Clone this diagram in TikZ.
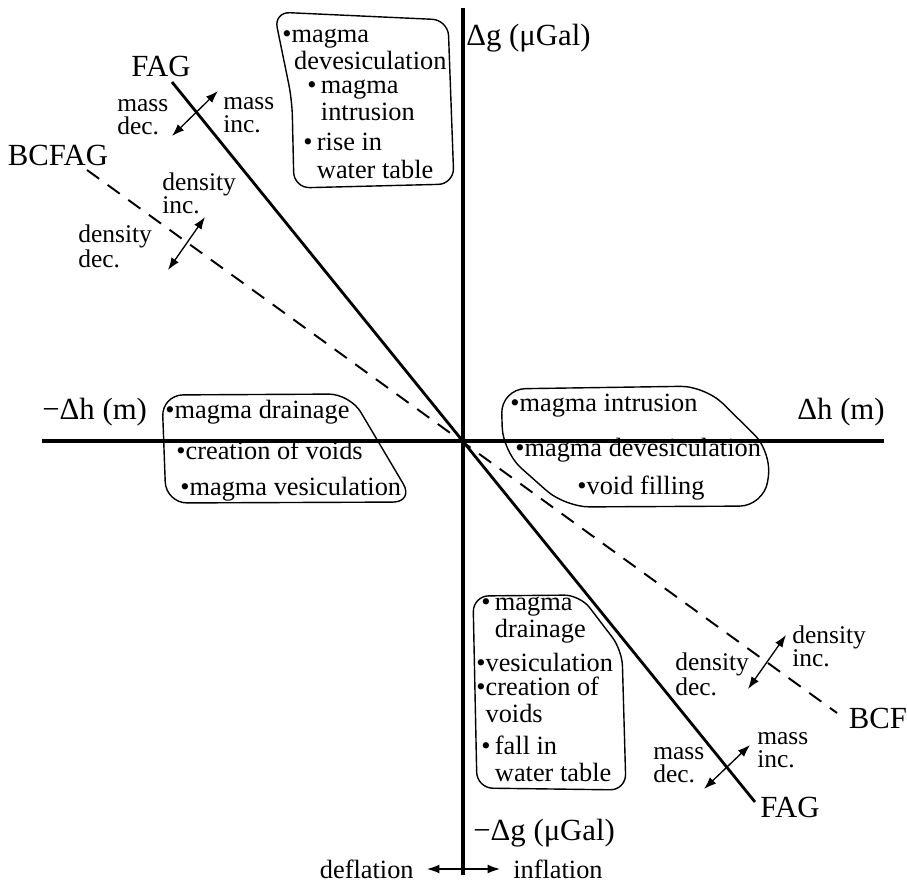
\documentclass[tikz,border=0pt]{standalone}
\usepackage{fontspec}
\setmainfont{Liberation Serif}
\usetikzlibrary{arrows.meta}

\begin{document}
\begin{tikzpicture}[x=0.02cm, y=-0.02cm,
  axis/.style={line width=2.3pt},
  blob/.style={draw, line width=0.8pt, rounded corners=9pt},
  itm/.style={anchor=west, inner sep=0pt, align=left, font=\fontsize{15}{15.5}\selectfont},
  ann/.style={anchor=west, inner sep=0pt, align=left, font=\fontsize{14.5}{13}\selectfont},
  big/.style={inner sep=0pt, font=\fontsize{17.5}{20}\selectfont},
  dbl/.style={{Latex[length=7pt,width=5pt]}-{Latex[length=7pt,width=5pt]}, line width=0.75pt}
]
  \useasboundingbox (0,0) rectangle (907,886);

  % Axes
  \coordinate (ytop) at (463,8);
  \coordinate (ybot) at (463,875);
  \coordinate (xl) at (42,441);
  \coordinate (xr) at (884,441);
  \draw[axis] (ytop) -- (ybot);
  \draw[axis] (xl) -- (xr);

  \node[big, anchor=west] (gpos) at (466,38) {Δg (μGal)};
  \node[big, anchor=west] (gneg) at (473,833) {−Δg (μGal)};
  \node[big, anchor=west] (hneg) at (42,412) {−Δh (m)};
  \node[big, anchor=east] (hpos) at (885,412) {Δh (m)};

  % FAG and BCFAG lines
  \node[big] (fagtop) at (161,66) {FAG};
  \node[big] (fagbot) at (790,807) {FAG};
  \node[big] (bcfag) at (58,155) {BCFAG};
  \node[big] (bcf) at (878,718) {BCF};
  \coordinate (fag1) at (172,82);
  \coordinate (fag2) at (755,802);
  \coordinate (bcf1) at (87,170);
  \coordinate (bcf2) at (837,713);
  \draw[line width=1.6pt] (fag1) -- (fag2);
  \draw[line width=1.1pt, dash pattern=on 8.5pt off 6pt] (bcf1) -- (bcf2);

  % Upper left annotations
  \node[ann] (mdec1) at (117,117) {mass\\dec.};
  \node[ann] (minc1) at (223,115) {mass\\inc.};
  \node[ann] (dinc1) at (162,193) {density\\inc.};
  \node[ann] (ddec1) at (78,246) {density\\dec.};
  \coordinate (ma1) at (172,136);
  \coordinate (mb1) at (218,91);
  \coordinate (da1) at (168,270);
  \coordinate (db1) at (205,217);
  \draw[dbl] (ma1) -- (mb1);
  \draw[dbl] (da1) -- (db1);

  % Lower right annotations
  \node[ann] (dinc2) at (792,646) {density\\inc.};
  \node[ann] (ddec2) at (675,674) {density\\dec.};
  \node[ann] (minc2) at (757,750) {mass\\inc.};
  \node[ann] (mdec2) at (653,765) {mass\\dec.};
  \coordinate (da2) at (748,689);
  \coordinate (db2) at (786,635);
  \coordinate (ma2) at (704,789);
  \coordinate (mb2) at (750,745);
  \draw[dbl] (da2) -- (db2);
  \draw[dbl] (ma2) -- (mb2);

  % Upper box
  \draw[blob] (274,12) -- (448,20) -- (454,184) -- (294,188) -- (292,100) -- cycle;
  \node[itm] (t1) at (282,49) {\textbullet magma\\\hspace*{0.45em}devesiculation};
  \node[itm] (t2) at (307,100) {\textbullet\,magma\\\phantom{\textbullet\,}intrusion};
  \node[itm] (t3) at (303,156) {\textbullet\,rise in\\\phantom{\textbullet\,}water table};

  % Left box
  \draw[blob, rounded corners=12pt] (162,395) -- (350,394) -- (414,502) -- (166,503) -- cycle;
  \node[itm] (l1) at (165,412) {\textbullet magma drainage};
  \node[itm] (l2) at (176,450) {\textbullet creation of voids};
  \node[itm] (l3) at (180,489) {\textbullet magma vesiculation};

  % Right box
  \draw[blob, rounded corners=14pt] (501,389) -- (705,386) -- (772,452) -- (764,506) -- (565,507) -- (503,452) -- cycle;
  \node[itm] (r1) at (510,406) {\textbullet magma intrusion};
  \node[itm] (r2) at (515,450) {\textbullet magma devesiculation};
  \node[itm] (r3) at (577,488) {\textbullet void filling};

  % Lower box
  \draw[blob] (473,596) -- (580,595) -- (622,650) -- (626,790) -- (477,788) -- cycle;
  \node[itm] (b1) at (481,620) {\textbullet\,magma\\\phantom{\textbullet\,}drainage};
  \node[itm] (b2) at (476,662) {\textbullet vesiculation};
  \node[itm] (b3) at (476,700) {\textbullet creation of\\\phantom{\textbullet}voids};
  \node[itm] (b4) at (481,759) {\textbullet\,fall in\\\phantom{\textbullet\,}water table};

  % Deflation / inflation
  \node[itm, anchor=east] (defl) at (414,869) {deflation};
  \node[itm] (infl) at (513,869) {inflation};
  \draw[dbl, shorten <=7.4pt, shorten >=7.4pt] (defl.east) -- (infl.west);
\end{tikzpicture}
\end{document}
